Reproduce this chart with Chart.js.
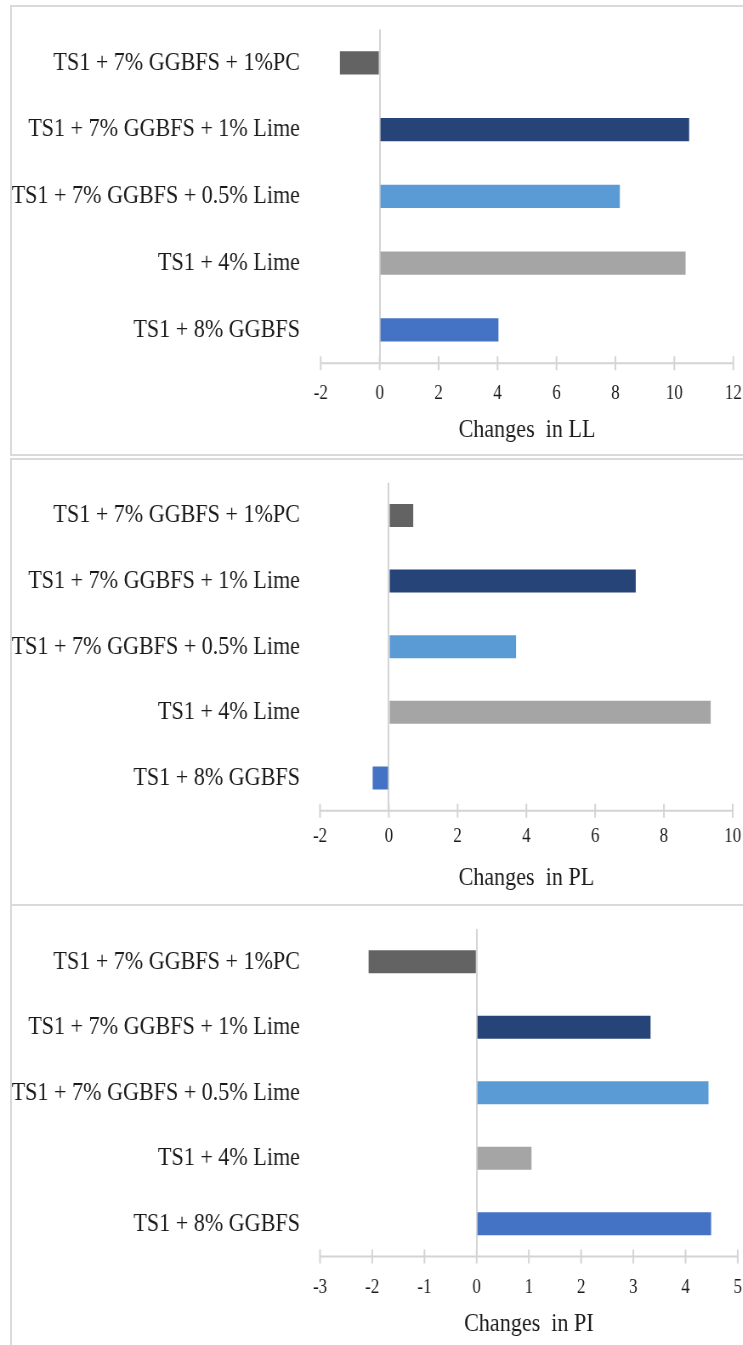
<!DOCTYPE html>
<html>
<head>
<meta charset="utf-8">
<script src="https://cdn.jsdelivr.net/npm/chart.js@4/dist/chart.umd.min.js"></script>
<style>
  html, body { margin: 0; padding: 0; background: #fff; }
  body { width: 743px; height: 1345px; overflow: hidden; position: relative; }
  .panel { position: absolute; left: 10px; width: 780px; border: 2px solid #dadada; box-sizing: border-box; }
  .wrap { position: absolute; left: 0; width: 874px; transform: scaleX(0.85); transform-origin: 0 0; }
  canvas { display: block; }
</style>
</head>
<body>
<div class="panel" style="top:5px;height:451px"></div>
<div class="panel" style="top:458px;height:448px"></div>
<div class="panel" style="top:904px;height:520px"></div>

<div class="wrap" style="top:8px;height:446px"><canvas id="chartLL" width="874" height="446"></canvas></div>
<div class="wrap" style="top:461px;height:442px"><canvas id="chartPL" width="874" height="442"></canvas></div>
<div class="wrap" style="top:908px;height:437px"><canvas id="chartPI" width="874" height="437"></canvas></div>

<script>
// Mixes, listed top to bottom
const categories = [
  'TS1 + 7% GGBFS + 1%PC',
  'TS1 + 7% GGBFS + 1% Lime',
  'TS1 + 7% GGBFS + 0.5% Lime',
  'TS1 + 4% Lime',
  'TS1 + 8% GGBFS'
];
const barColors = ['#636363', '#264478', '#5B9BD5', '#A5A5A5', '#4472C4'];

// Changes in liquid limit, plastic limit and plasticity index
const llValues = [-1.35, 10.5, 8.15, 10.38, 4.03];
const plValues = [0.71, 7.18, 3.70, 9.36, -0.47];
const piValues = [-2.07, 3.33, 4.44, 1.05, 4.49];

// Value-axis tick labels
const llTicks = [-2, 0, 2, 4, 6, 8, 10, 12];
const plTicks = [-2, 0, 2, 4, 6, 8, 10];
const piTicks = [-3, -2, -1, 0, 1, 2, 3, 4, 5];

const SERIF = "'Liberation Serif', 'Times New Roman', serif";
const AXIS_GREY = '#d4d4d4';

// Horizontal axis line with tick marks crossing it
const crossTicks = {
  id: 'crossTicks',
  afterDatasetsDraw(chart) {
    const xs = chart.scales.x;
    const y = chart.chartArea.bottom;
    const ctx = chart.ctx;
    ctx.save();
    ctx.strokeStyle = AXIS_GREY;
    ctx.lineWidth = 2;
    ctx.beginPath();
    ctx.moveTo(xs.getPixelForValue(xs.min), y);
    ctx.lineTo(xs.getPixelForValue(xs.max), y);
    xs.ticks.forEach(t => {
      const x = xs.getPixelForValue(t.value);
      ctx.moveTo(x, y - 7);
      ctx.lineTo(x, y + 7);
    });
    ctx.stroke();
    ctx.restore();
  }
};

// Let the layout padding alone decide where the plot area sits
function noEdgePadding(s) {
  s.paddingTop = 0;
  s.paddingBottom = 0;
  s.paddingLeft = 0;
  s.paddingRight = 0;
}

function makeChart(id, values, ticks, title, lay) {
  return new Chart(document.getElementById(id), {
    type: 'bar',
    data: {
      labels: categories,
      datasets: [{
        data: values,
        backgroundColor: barColors,
        borderWidth: 0,
        categoryPercentage: 1,
        barPercentage: 0.35
      }]
    },
    options: {
      indexAxis: 'y',
      responsive: false,
      animation: false,
      events: [],
      layout: { padding: { top: lay.top, bottom: lay.bottom, left: 0, right: lay.right } },
      plugins: { legend: { display: false }, tooltip: { enabled: false } },
      scales: {
        x: {
          type: 'linear',
          min: ticks[0],
          max: ticks[ticks.length - 1],
          afterBuildTicks: s => { s.ticks = ticks.map(v => ({ value: v })); },
          afterFit: noEdgePadding,
          border: { display: false },
          grid: {
            drawTicks: false,
            lineWidth: 2,
            color: c => (c.tick && c.tick.value === 0 ? AXIS_GREY : 'rgba(0,0,0,0)')
          },
          ticks: {
            padding: lay.tickPad,
            color: '#1a1a1a',
            maxRotation: 0,
            font: { family: SERIF, size: 20 }
          },
          title: {
            display: true,
            text: title,
            color: '#1a1a1a',
            padding: { top: 0, bottom: 0 },
            font: { family: SERIF, size: 26, lineHeight: lay.titleLH }
          }
        },
        y: {
          border: { display: false },
          grid: { display: false, drawTicks: false },
          afterFit: s => { s.width = lay.yWidth; noEdgePadding(s); },
          ticks: {
            padding: lay.yPad,
            color: '#1a1a1a',
            font: { family: SERIF, size: 26 }
          }
        }
      }
    },
    plugins: [crossTicks]
  });
}

makeChart('chartLL', llValues, llTicks, 'Changes  in LL',
  { top: 21.5, bottom: 17.9, right: 11.3, tickPad: 18, titleLH: '12.8px', yWidth: 377.3, yPad: 24.4 });
makeChart('chartPL', plValues, plTicks, 'Changes  in PL',
  { top: 21.7, bottom: 10.3, right: 12, tickPad: 14, titleLH: '30px', yWidth: 376.5, yPad: 23.6 });
makeChart('chartPI', piValues, piTicks, 'Changes  in PI',
  { top: 21, bottom: 15, right: 6.1, tickPad: 19, titleLH: '11.4px', yWidth: 376.5, yPad: 23.6 });
</script>
</body>
</html>
